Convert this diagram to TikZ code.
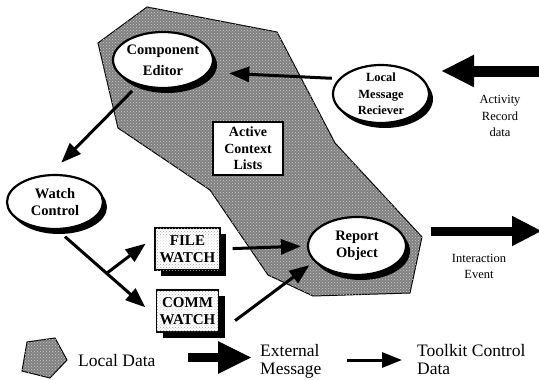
\documentclass[tikz,border=0pt]{standalone}
\usepackage{fontspec}
\setmainfont{Liberation Serif}
\usetikzlibrary{arrows.meta,patterns,shapes.geometric,shadows}
\begin{document}
\begin{tikzpicture}[x=1pt,y=-1pt,
  local/.style={draw, line width=1pt, fill=black!50, postaction={pattern=crosshatch dots, pattern color=black!20}},
  oval/.style={ellipse, draw, line width=2.2pt, fill=white, inner sep=0pt,
     drop shadow={opacity=1, fill=black, shadow xshift=4pt, shadow yshift=-5pt}},
  ovaltext/.style={font=\bfseries\fontsize{14.5}{17}\selectfont, align=center},
  watchbox/.style={rectangle, draw, line width=1.2pt, fill=white, inner sep=0pt,
     minimum width=63pt, minimum height=42pt,
     postaction={pattern=crosshatch dots, pattern color=gray!70},
     drop shadow={opacity=1, fill=black, shadow xshift=6pt, shadow yshift=-6pt}},
  watchtext/.style={font=\bfseries\fontsize{15}{16.5}\selectfont, align=center, fill=white, fill opacity=0.6, text opacity=1, inner sep=1pt},
  tk/.style={line width=3pt, -{Triangle[length=20pt,width=15pt]}},
  big/.style={line width=11pt, -{Triangle[length=33pt,width=30pt]}},
  bigout/.style={line width=9pt, -{Triangle[length=30pt,width=28pt]}},
  legtext/.style={anchor=base west, font=\fontsize{17.5}{20}\selectfont, inner sep=0pt},
  smalltext/.style={align=center, font=\fontsize{12.5}{16.5}\selectfont}
]
\useasboundingbox (0,0) rectangle (539,380);
\clip (0,0) rectangle (539,380);
\fill[white] (0,0) rectangle (539,380);

% local data region
\draw[local] (147,7) -- (277,32) -- (335,143) -- (422,237) -- (410,293) -- (313,296)
  -- (268,275) -- (210,190) -- (118,128) -- (98,43) -- cycle;

% ovals
\node[oval, minimum width=100pt, minimum height=56pt,
  label={[ovaltext, font=\bfseries\fontsize{14.5}{21}\selectfont]center:Component\\Editor}] (ce) at (163,60) {};
\node[oval, minimum width=96pt, minimum height=58pt,
  label={[ovaltext, font=\bfseries\fontsize{12.5}{16.5}\selectfont]center:Local\\Message\\Reciever}] (lmr) at (381,94) {};
\node[oval, minimum width=96pt, minimum height=54pt,
  label={[ovaltext]center:Watch\\Control}] (wc) at (55,202) {};
\node[oval, minimum width=98pt, minimum height=58pt,
  label={[ovaltext]center:Report\\Object}] (ro) at (357,246) {};

% active context lists
\node[draw, line width=1.8pt, fill=white, minimum width=70pt, minimum height=53pt, inner sep=0pt,
  align=center, font=\bfseries\fontsize{14}{16.5}\selectfont] (acl) at (248,148.5) {Active\\Context\\Lists};

% watch boxes
\node[watchbox, minimum width=65pt] (fw) at (187.5,249) {};
\node[watchtext] (fwt) at (fw) {FILE\\WATCH};
\node[watchbox, minimum width=62pt] (cw) at (187.5,311) {};
\node[watchtext] (cwt) at (cw) {COMM\\WATCH};

% toolkit control arrows
\draw[tk, shorten <=7pt, shorten >=20pt] (lmr.160) -- (ce.-15);
\draw[tk, shorten <=8pt, shorten >=16pt] (ce.-135) -- (wc.100);
\draw[tk, shorten <=10pt, shorten >=14pt] (wc.-85) -- coordinate[pos=0.5] (br) (cw.190);
\draw[tk, shorten >=11pt] (br) -- (fw.160);
\draw[tk, shorten <=12pt, shorten >=6pt] (fw.east) -- (ro.west);
\draw[tk, shorten <=20pt, shorten >=6pt] (cw.south east) -- (ro.-160);

% external messages
\coordinate (inA) at (560,71);
\draw[big, shorten >=11pt] (inA) -- (inA -| lmr.east);
\node[smalltext] (ard) at (500,116) {Activity\\Record\\data};
\coordinate (outB) at (542,231);
\draw[bigout, shorten <=24pt] (ro.east |- outB) -- (outB);
\node[smalltext, font=\fontsize{12.5}{16}\selectfont] (ie) at (479,266) {Interaction\\Event};

% legend
\draw[local] (27,342) -- (55,338) -- (67,360) -- (50,378) -- (22,371) -- cycle;
\node[legtext] (ld) at (78,366) {Local Data};
\coordinate (l1a) at (188,357.5);
\coordinate (l1b) at (252,357.5);
\draw[line width=9pt, -{Triangle[length=34pt,width=30pt]}] (l1a) -- (l1b);
\node[legtext] (ext1) at (260,356) {External};
\node[legtext] (ext2) at (260,374) {Message};
\coordinate (l2a) at (347,360);
\coordinate (l2b) at (402,360);
\draw[tk] (l2a) -- (l2b);
\node[legtext] (tc1) at (417,356) {Toolkit Control};
\node[legtext] (tc2) at (417,374) {Data};
\end{tikzpicture}
\end{document}
